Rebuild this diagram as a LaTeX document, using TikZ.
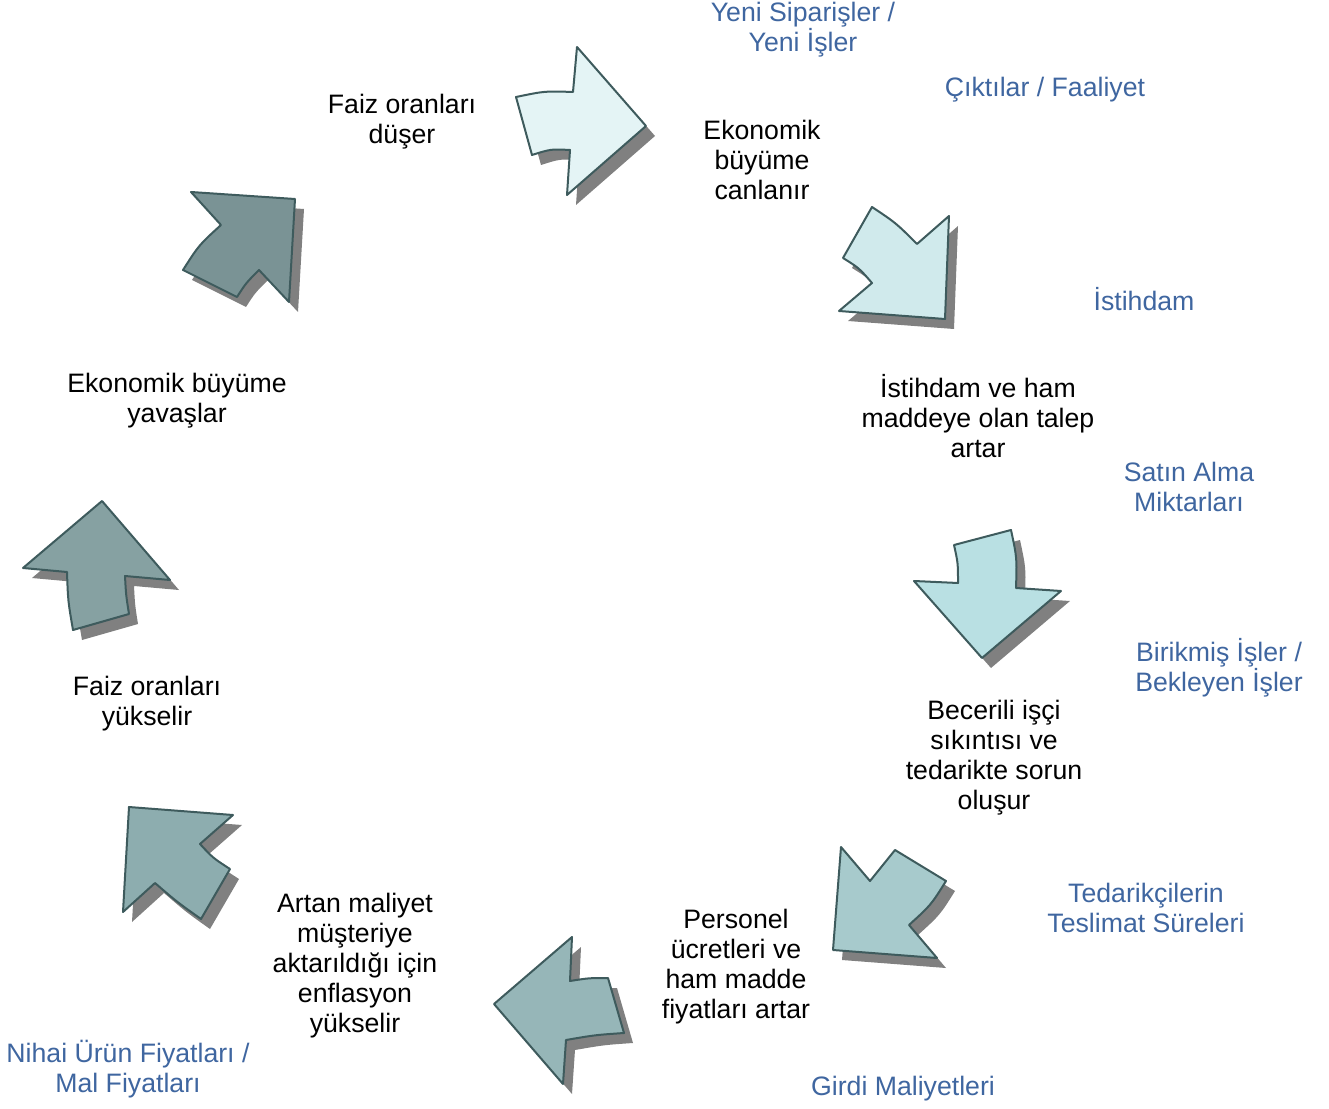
\documentclass[tikz,border=0pt]{standalone}
\usepackage{fontspec}
\setmainfont{Liberation Sans}
\definecolor{stageblue}{HTML}{3F66A0}
\definecolor{edgegray}{HTML}{3E5B5D}
\definecolor{shadowgray}{HTML}{808080}
\definecolor{arrowA}{HTML}{E4F4F5}
\definecolor{arrowB}{HTML}{D0EAEC}
\definecolor{arrowC}{HTML}{B9E0E3}
\definecolor{arrowD}{HTML}{A7CACC}
\definecolor{arrowE}{HTML}{96B6B8}
\definecolor{arrowF}{HTML}{8DADAF}
\definecolor{arrowG}{HTML}{86A1A2}
\definecolor{arrowH}{HTML}{7A9395}
\tikzset{
  stage/.style={align=center,font=\fontsize{20pt}{22.5pt}\selectfont,inner sep=0pt},
  indicator/.style={stage,text=stageblue},
  blockarrow/.style={draw=edgegray,line width=1.5pt,line join=round},
  arrowshade/.style={fill=shadowgray}
}
\newcommand{\cyclearrow}[2]{%
  \fill[arrowshade,shift={(9,10)}] #2;
  \filldraw[blockarrow,fill=#1] #2;}
\begin{document}
\begin{tikzpicture}[x=0.75pt,y=-0.75pt]
    \useasboundingbox (0,0) rectangle (1329,1109);
    % block arrows round the cycle
    \cyclearrow{arrowA}{(516,97) .. controls (545,91) .. (573,92) -- (577,47) -- (646,126)
        -- (567,195) -- (570,150) .. controls (551,149) .. (532,155) -- cycle}
    \cyclearrow{arrowB}{(872,207) .. controls (896,223) .. (917,244) -- (949,216) -- (945,319)
        -- (839,311) -- (872,283) .. controls (859,268) .. (843,258) -- cycle}
    \cyclearrow{arrowC}{(954,545) -- (1011,530) .. controls (1017,558) .. (1016,588) -- (1061,591)
        -- (982,658) -- (914,581) -- (958,583) .. controls (958,563) .. cycle}
    \cyclearrow{arrowD}{(841,847) -- (870,881) .. controls (882,866) .. (895,850) -- (946,881)
        .. controls (931,905) .. (909,925) -- (937,958) -- (833,950) -- cycle}
    \cyclearrow{arrowE}{(572,937) -- (570,981) .. controls (589,978) .. (608,978) -- (624,1033)
        .. controls (595,1035) .. (566,1040) -- (563,1084) -- (494,1004) -- cycle}
    \cyclearrow{arrowF}{(129,807) -- (233,815) -- (200,844) .. controls (213,858) .. (230,869)
        -- (201,919) .. controls (177,902) .. (155,883) -- (123,912) -- cycle}
    \cyclearrow{arrowG}{(102,501) -- (170,580) -- (125,576) .. controls (126,595) .. (129,614)
        -- (73,630) .. controls (68,601) .. (67,572) -- (23,568) -- cycle}
    \cyclearrow{arrowH}{(191,192) -- (295,199) -- (289,302) -- (259,270) .. controls (246,283) .. (237,297)
        -- (183,270) .. controls (199,245) .. (221,225) -- cycle}
    % stages
    \node[stage] (ratesfall) at (402,122) {Faiz oranları\\düşer};
    \node[stage] (growthup) at (762,160) {Ekonomik\\büyüme\\canlanır};
    \node[stage] (demand) at (978,416) {İstihdam ve ham\\maddeye olan talep\\artar};
    \node[stage] (shortage) at (994,758) {Becerili işçi\\sıkıntısı ve\\tedarikte sorun\\oluşur};
    \node[stage] (costs) at (736,967) {Personel\\ücretleri ve\\ham madde\\fiyatları artar};
    \node[stage] (inflation) at (355,966) {Artan maliyet\\müşteriye\\aktarıldığı için\\enflasyon\\yükselir};
    \node[stage] (ratesrise) at (147,704) {Faiz oranları\\yükselir};
    \node[stage] (growthdown) at (177,401) {Ekonomik büyüme\\yavaşlar};
    % indicators
    \node[indicator] (orders) at (803,30) {Yeni Siparişler /\\Yeni İşler};
    \node[indicator] (output) at (1045,90) {Çıktılar / Faaliyet};
    \node[indicator] (employment) at (1144,299) {İstihdam};
    \node[indicator] (purchases) at (1189,487) {Satın Alma\\Miktarları};
    \node[indicator] (backlog) at (1219,668) {Birikmiş İşler /\\Bekleyen İşler};
    \node[indicator] (delivery) at (1146,908) {Tedarikçilerin\\Teslimat Süreleri};
    \node[indicator] (inputcost) at (903,1089) {Girdi Maliyetleri};
    \node[indicator] (prices) at (128,1069) {Nihai Ürün Fiyatları /\\Mal Fiyatları};
\end{tikzpicture}
\end{document}
